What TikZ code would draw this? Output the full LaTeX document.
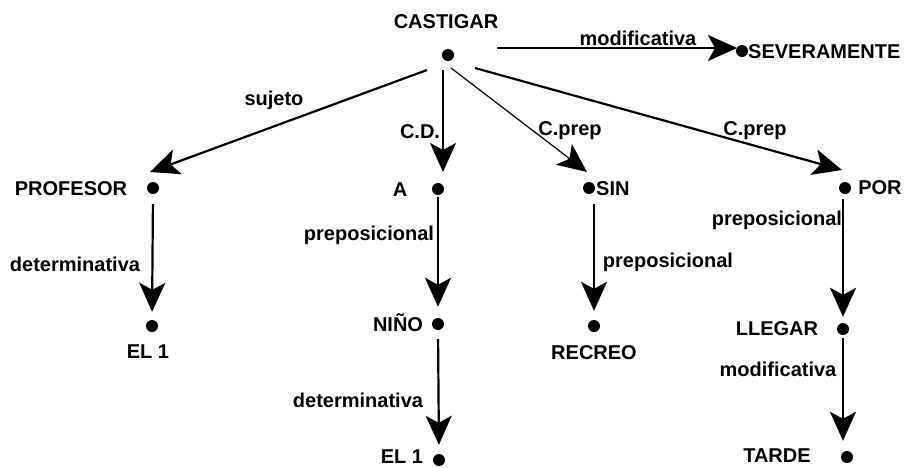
\documentclass[tikz,border=0pt]{standalone}
\usepackage{fontspec}
\setmainfont{Liberation Sans}
\usetikzlibrary{arrows.meta}
\begin{document}
\begin{tikzpicture}[x=1pt,y=-1pt,
  txt/.style={inner sep=0pt,font=\bfseries\fontsize{20}{23}\selectfont},
  dot/.style={circle,fill=black,inner sep=0pt,minimum size=12pt},
  arr/.style={line width=2.2pt,-{Stealth[length=29pt,width=26pt,inset=7pt]}},
  thinarr/.style={line width=1.2pt,-{Stealth[length=29pt,width=26pt,inset=7pt]}}]
\useasboundingbox (0,0) rectangle (914,467);

% dots of the dependency tree
\node[dot] (cast) at (448,55) {};
\node[dot] (sev)  at (742,51) {};
\node[dot] (prof) at (153,188) {};
\node[dot] (el1a) at (152,326) {};
\node[dot] (a)    at (438,189) {};
\node[dot] (nino) at (438,324) {};
\node[dot] (el1b) at (439,460) {};
\node[dot] (sin)  at (589,188) {};
\node[dot] (recr) at (594,326) {};
\node[dot] (por)  at (845,188) {};
\node[dot] (lleg) at (843,329) {};
\node[dot] (tard) at (847,457) {};

% word labels
\node[txt] (tcast) at (446,22) {CASTIGAR};
\node[txt,anchor=west] (tsev) at (748,52) {SEVERAMENTE};
\node[txt] (tprof) at (71,189) {PROFESOR};
\node[txt] (tel1a) at (148,352) {EL 1};
\node[txt] (ta) at (400,190) {A};
\node[txt] (tnino) at (398,323) {NIÑO};
\node[txt] (tel1b) at (402,457) {EL 1};
\node[txt,anchor=west] (tsin) at (596,189) {SIN};
\node[txt] (trecr) at (594,353) {RECREO};
\node[txt] (tpor) at (880,188) {POR};
\node[txt] (tlleg) at (777,329) {LLEGAR};
\node[txt] (ttard) at (777,456) {TARDE};

% relation labels
\node[txt] (lmod1) at (638,38) {modificativa};
\node[txt] (lsuj) at (274,100) {sujeto};
\node[txt] (lcd) at (420,132) {C.D.};
\node[txt] (lcp1) at (570,131) {C.prep};
\node[txt] (lcp2) at (755,131) {C.prep};
\node[txt] (ldet1) at (75,264) {determinativa};
\node[txt] (lprep1) at (369,235) {preposicional};
\node[txt] (ldet2) at (358,400) {determinativa};
\node[txt] (lprep2) at (668,262) {preposicional};
\node[txt] (lprep3) at (777,220) {preposicional};
\node[txt] (lmod2) at (778,369) {modificativa};

% ends of the edges leaving CASTIGAR
\coordinate (s1) at (427,70);  \coordinate (e1) at (150,172);
\coordinate (s2) at (443,70);  \coordinate (e2) at (443,172);
\coordinate (s3) at (451,68);  \coordinate (e3) at (587,172);
\coordinate (s4) at (475,68);  \coordinate (e4) at (842,170);
\coordinate (s5) at (497,48);  \coordinate (e5) at (737,48);

\draw[arr] (s1) -- (e1);
\draw[arr] (s2) -- (e2);
\draw[thinarr] (s3) -- (e3);
\draw[arr] (s4) -- (e4);
\draw[arr] (s5) -- (e5);

% vertical dependencies
\draw[arr,shorten <=10pt,shorten >=8pt] (prof.south) -- (el1a.north);
\draw[arr,shorten <=2pt,shorten >=11pt] (a.south) -- (nino.north);
\draw[arr,shorten <=9pt,shorten >=9pt] (nino.south) -- (el1b.north);
\draw[arr,shorten <=10pt,shorten >=9pt] (sin.south -| recr) -- (recr.north);
\draw[arr,shorten <=5pt,shorten >=6pt] (por.south -| lleg) -- (lleg.north);
\draw[arr,shorten <=3pt,shorten >=10pt] (lleg.south) -- (lleg.south |- tard.north);
\end{tikzpicture}
\end{document}
